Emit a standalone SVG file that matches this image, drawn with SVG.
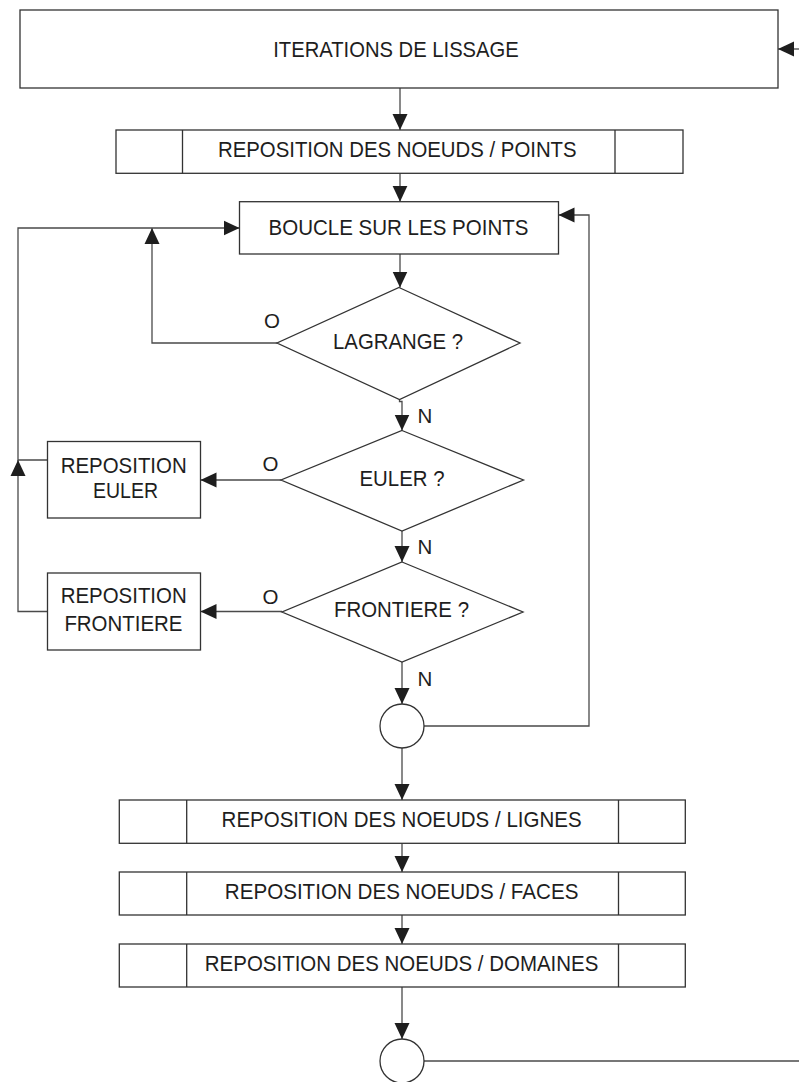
<svg xmlns="http://www.w3.org/2000/svg" width="799" height="1082" viewBox="0 0 799 1082">
  <style>
    .box { fill: #ffffff; stroke: #333333; stroke-width: 1.3; }
    .div { fill: none; stroke: #333333; stroke-width: 1.3; }
    .wire { fill: none; stroke: #4a4a4a; stroke-width: 1.3; }
    .lbl { font-family: "Liberation Sans", Arial, sans-serif; font-size: 21.5px; fill: #1e1e1e; text-anchor: middle; }
    .tag { font-family: "Liberation Sans", Arial, sans-serif; font-size: 20.5px; fill: #1e1e1e; text-anchor: middle; }
  </style>
  <defs>
    <marker id="arrow" markerUnits="userSpaceOnUse" viewBox="0 0 16 16" refX="16" refY="8" markerWidth="16" markerHeight="16" orient="auto">
      <path d="M0,0.5 L16,8 L0,15.5 z" fill="#1e1e1e"/>
    </marker>
  </defs>

  <!-- connectors -->
  <g id="connectors">
    <path class="wire" d="M799,49 H778" marker-end="url(#arrow)"/>
    <path class="wire" d="M400,88 V130" marker-end="url(#arrow)"/>
    <path class="wire" d="M400,173.3 V201.7" marker-end="url(#arrow)"/>
    <path class="wire" d="M400,254 V287.5" marker-end="url(#arrow)"/>
    <!-- LAGRANGE yes: back to the point loop -->
    <path class="wire" d="M277,343 H152 V228" marker-end="url(#arrow)"/>
    <!-- outer return line to the point loop -->
    <path class="wire" d="M47.5,460 H18 V228 H239.5" marker-end="url(#arrow)"/>
    <path class="wire" d="M47.5,611.5 H18 V460" marker-end="url(#arrow)"/>
    <!-- N branches -->
    <path class="wire" d="M399.5,399.5 V401.5 H402 V430.5" marker-end="url(#arrow)"/>
    <path class="wire" d="M402,531 V562" marker-end="url(#arrow)"/>
    <path class="wire" d="M402,662 V704" marker-end="url(#arrow)"/>
    <!-- O branches -->
    <path class="wire" d="M281,480 H200.5" marker-end="url(#arrow)"/>
    <path class="wire" d="M282,611.5 H200.5" marker-end="url(#arrow)"/>
    <!-- end of point loop -->
    <path class="wire" d="M424,726 H589 V215 H558.5" marker-end="url(#arrow)"/>
    <path class="wire" d="M402,748 V800" marker-end="url(#arrow)"/>
    <path class="wire" d="M402,843.3 V872" marker-end="url(#arrow)"/>
    <path class="wire" d="M402,915 V944" marker-end="url(#arrow)"/>
    <path class="wire" d="M402,987 V1039" marker-end="url(#arrow)"/>
    <path class="wire" d="M424,1061 H799"/>
    <!-- branch labels -->
    <text class="tag" x="272" y="328">O</text>
    <text class="tag" x="425" y="423">N</text>
    <text class="tag" x="270.5" y="471">O</text>
    <text class="tag" x="425" y="554">N</text>
    <text class="tag" x="270.5" y="604">O</text>
    <text class="tag" x="425" y="686">N</text>
  </g>

  <g id="iterations">
    <rect class="box" x="20" y="10" width="758" height="78"/>
    <text class="lbl" x="396" y="57.3" textLength="245.5" lengthAdjust="spacingAndGlyphs">ITERATIONS DE LISSAGE</text>
  </g>

  <g id="repos-points">
    <rect class="box" x="116" y="130" width="567" height="43.3"/>
    <path class="div" d="M182.5,130 V173.3 M615,130 V173.3"/>
    <text class="lbl" x="397.3" y="157.3" textLength="358.7" lengthAdjust="spacingAndGlyphs">REPOSITION DES NOEUDS / POINTS</text>
  </g>

  <g id="boucle">
    <rect class="box" x="239.5" y="201.7" width="319" height="52.3"/>
    <text class="lbl" x="398.5" y="234.5" textLength="260" lengthAdjust="spacingAndGlyphs">BOUCLE SUR LES POINTS</text>
  </g>

  <g id="lagrange">
    <polygon class="box" points="399,287.5 520,343 399.5,399.5 277,343"/>
    <text class="lbl" x="398" y="349" textLength="130" lengthAdjust="spacingAndGlyphs">LAGRANGE ?</text>
  </g>

  <g id="euler">
    <polygon class="box" points="402,430.5 523.5,480 402,531 281,480"/>
    <text class="lbl" x="402" y="485.7" textLength="85" lengthAdjust="spacingAndGlyphs">EULER ?</text>
  </g>

  <g id="frontiere">
    <polygon class="box" points="402,562 523,612 402,662 282,612"/>
    <text class="lbl" x="401.5" y="617.3" textLength="135" lengthAdjust="spacingAndGlyphs">FRONTIERE ?</text>
  </g>

  <g id="repos-euler">
    <rect class="box" x="47.5" y="441.5" width="153" height="76.5"/>
    <text class="lbl" x="123.7" y="472.5" textLength="126" lengthAdjust="spacingAndGlyphs">REPOSITION</text>
    <text class="lbl" x="125.5" y="498.3" textLength="65" lengthAdjust="spacingAndGlyphs">EULER</text>
  </g>

  <g id="repos-frontiere">
    <rect class="box" x="47.5" y="573" width="153" height="77"/>
    <text class="lbl" x="123.7" y="603" textLength="126" lengthAdjust="spacingAndGlyphs">REPOSITION</text>
    <text class="lbl" x="123.4" y="630.7" textLength="118" lengthAdjust="spacingAndGlyphs">FRONTIERE</text>
  </g>

  <g id="jonction-points">
    <circle class="box" cx="402" cy="726" r="22"/>
  </g>

  <g id="repos-lignes">
    <rect class="box" x="119.3" y="800" width="566" height="43.3"/>
    <path class="div" d="M186.7,800 V843.3 M618.5,800 V843.3"/>
    <text class="lbl" x="401.6" y="827.3" textLength="360" lengthAdjust="spacingAndGlyphs">REPOSITION DES NOEUDS / LIGNES</text>
  </g>

  <g id="repos-faces">
    <rect class="box" x="119.3" y="872" width="566" height="43"/>
    <path class="div" d="M186.7,872 V915 M618.5,872 V915"/>
    <text class="lbl" x="401.6" y="899" textLength="353.6" lengthAdjust="spacingAndGlyphs">REPOSITION DES NOEUDS / FACES</text>
  </g>

  <g id="repos-domaines">
    <rect class="box" x="119.3" y="944" width="566" height="43"/>
    <path class="div" d="M186.7,944 V987 M618.5,944 V987"/>
    <text class="lbl" x="401.6" y="971.3" textLength="393.6" lengthAdjust="spacingAndGlyphs">REPOSITION DES NOEUDS / DOMAINES</text>
  </g>

  <g id="jonction-fin">
    <circle class="box" cx="402" cy="1061" r="22"/>
  </g>
</svg>
